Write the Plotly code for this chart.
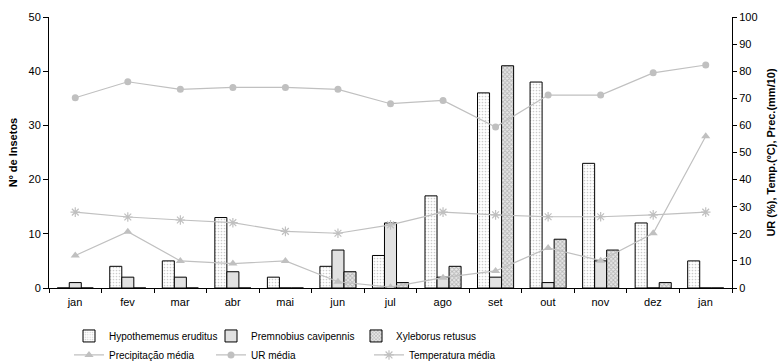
import plotly.graph_objects as go

months = ["jan", "fev", "mar", "abr", "mai", "jun", "jul", "ago", "set", "out", "nov", "dez", "jan"]
hypo = [0, 4, 5, 13, 2, 4, 6, 17, 36, 38, 23, 12, 5]
prem = [1, 2, 2, 3, 0, 7, 12, 2, 2, 1, 5, 0, 0]
xyle = [0, 0, 0, 0, 0, 3, 1, 4, 41, 9, 7, 1, 0]
precip = [12, 20.8, 10, 9, 10, 2.3, 0.3, 3.8, 6.3, 14.8, 10.1, 20.2, 56]
ur = [70.2, 76.1, 73.3, 74, 74, 73.3, 68, 69.2, 59.4, 71.2, 71.2, 79.4, 82.3]
temp = [28, 26.2, 25.1, 24.1, 20.9, 20.2, 23.3, 28, 27, 26.3, 26.3, 27, 28]

x = list(range(len(months)))
FONT = "Liberation Sans, Arial, sans-serif"
GRAY = "#c0c0c0"

fig = go.Figure()

bar_specs = [
    ("Hypothememus eruditus", hypo, dict(shape=".", size=3, solidity=0.25, fgcolor="#9a9a9a", bgcolor="white"), "legend"),
    ("Premnobius cavipennis", prem, dict(shape=".", size=2, solidity=0.45, fgcolor="#999999", bgcolor="#f2f2f2"), "legend2"),
    ("Xyleborus retusus", xyle, dict(shape="x", size=3, solidity=0.5, fgcolor="#888888", bgcolor="#e8e8e8"), "legend3"),
]
for name, vals, pat, lg in bar_specs:
    fig.add_trace(go.Bar(
        x=x, y=vals, name=name, legend=lg, showlegend=True,
        marker=dict(color="white", pattern=pat, line=dict(color="black", width=1)),
    ))

line_specs = [
    ("Precipitação média", precip, dict(symbol="triangle-up", size=8, color=GRAY), "legend4"),
    ("UR média", ur, dict(symbol="circle", size=7, color=GRAY), "legend5"),
    ("Temperatura média", temp, dict(symbol="asterisk-open", size=8, color=GRAY, line=dict(color=GRAY, width=1.2)), "legend6"),
]
for name, vals, mk, lg in line_specs:
    fig.add_trace(go.Scatter(
        x=x, y=vals, name=name, yaxis="y2", mode="lines+markers", legend=lg, showlegend=True,
        line=dict(color=GRAY, width=1.2), marker=mk,
    ))

boundaries = [i - 0.5 for i in range(len(months) + 1)]
leg_common = dict(orientation="h", yanchor="middle", xanchor="left",
                  font=dict(family=FONT, size=10, color="black"), bgcolor="rgba(0,0,0,0)",
                  itemwidth=30)
pw = 781 - 49 - 49
def lx(px):
    return (px - 49) / pw

fig.update_layout(
    width=781, height=364,
    showlegend=True,
    margin=dict(l=49, r=49, t=17, b=76, autoexpand=False),
    paper_bgcolor="white", plot_bgcolor="white",
    font=dict(family=FONT, size=11, color="black"),
    barmode="group", bargap=0.313, bargroupgap=0,
    xaxis=dict(
        range=[-0.5, len(months) - 0.5], automargin=False,
        tickmode="array", tickvals=boundaries,
        ticktext=months + [""], ticklabelshift=26,
        ticks="outside", ticklen=4, tickcolor="black", tickwidth=1,
        showline=True, linecolor="black", linewidth=1,
        showgrid=False, zeroline=False,
        tickfont=dict(family=FONT, size=11, color="black"),
    ),
    xaxis2=dict(
        overlaying="x", anchor="y", side="bottom", automargin=False,
        range=[-0.5, len(months) - 0.5],
        tickmode="array", tickvals=boundaries, showticklabels=False,
        ticks="inside", ticklen=3, tickcolor="black", showgrid=False, zeroline=False,
    ),
    yaxis=dict(
        range=[0, 50], dtick=10, automargin=False,
        ticks="outside", ticklen=5, tickcolor="black",
        showline=True, linecolor="black", linewidth=1,
        showgrid=False, zeroline=False,
        title=dict(text="<b>Nº de Insetos</b>", standoff=8,
                   font=dict(family=FONT, size=11, color="black")),
        tickfont=dict(family=FONT, size=11, color="black"),
    ),
    yaxis2=dict(
        range=[0, 100], dtick=10, overlaying="y", side="right", automargin=False,
        ticks="outside", ticklen=4, tickcolor="black",
        showline=True, linecolor="black", linewidth=1,
        showgrid=False, zeroline=False,
        title=dict(text="<b>UR (%), Temp.(ºC), Prec.(mm/10)</b>", standoff=10,
                   font=dict(family=FONT, size=11, color="black")),
        tickfont=dict(family=FONT, size=11, color="black"),
    ),
    yaxis3=dict(
        range=[0, 100], dtick=10, overlaying="y", side="right", anchor="x", automargin=False,
        ticks="inside", ticklen=4, tickcolor="black", showticklabels=False,
        showgrid=False, zeroline=False, showline=False,
    ),
    legend=dict(x=lx(69), y=-0.177, **leg_common),
    legend2=dict(x=lx(211), y=-0.177, **leg_common),
    legend3=dict(x=lx(356), y=-0.177, **leg_common),
    legend4=dict(x=lx(69), y=-0.247, **leg_common),
    legend5=dict(x=lx(211), y=-0.247, **leg_common),
    legend6=dict(x=lx(369), y=-0.247, **leg_common),
)

fig.write_html("out.html", config={"displayModeBar": False},
               post_script="document.body.style.margin='0';document.body.style.padding='0';")
